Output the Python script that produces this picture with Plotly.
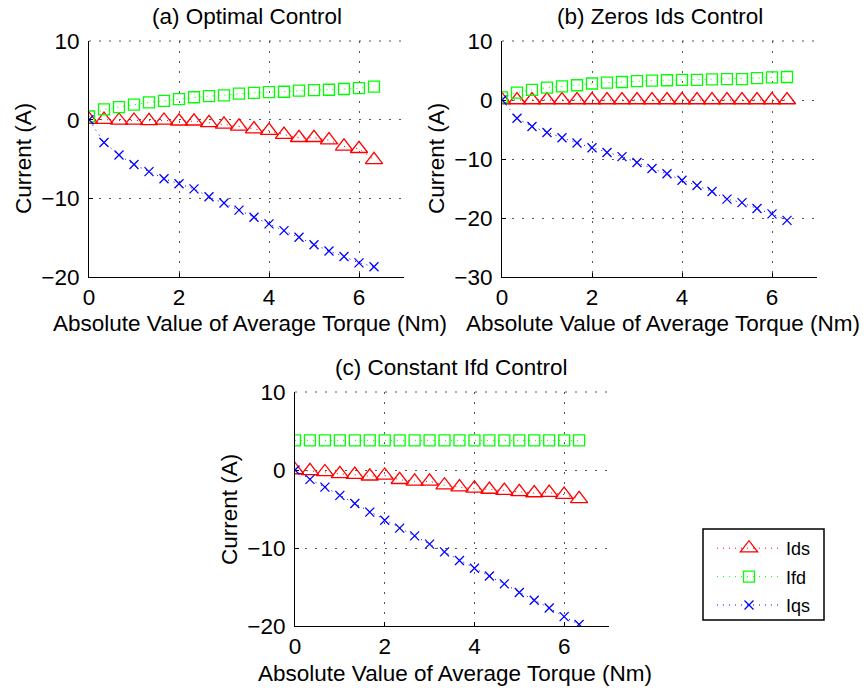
import plotly.graph_objects as go

W, H = 867, 690

# x values: 20 torque points, 0 .. 6.33 Nm
torque = [k / 3 for k in range(20)]

# (a) Optimal Control
a_ids = [0, 0, -0.1, -0.1, -0.15, -0.1, -0.2, -0.2, -0.4, -0.6,
         -0.85, -1.2, -1.4, -1.9, -2.3, -2.3, -2.6, -3.4, -3.7, -5.1]
a_ifd = [0.4, 1.3, 1.6, 1.9, 2.2, 2.4, 2.6, 2.85, 3.0, 3.1,
         3.3, 3.4, 3.5, 3.55, 3.7, 3.75, 3.8, 3.9, 4.0, 4.2]
a_iqs = [0, -2.9, -4.5, -5.7, -6.6, -7.5, -8.15, -8.8, -9.8, -10.6,
         -11.5, -12.4, -13.25, -14.1, -14.95, -15.9, -16.7, -17.4, -18.2, -18.7]

# (b) Zeros Ids Control
b_ids = [0] * 20
b_ifd = [0.45, 1.25, 1.7, 2.1, 2.3, 2.5, 2.8, 2.95, 3.05, 3.2,
         3.3, 3.35, 3.4, 3.4, 3.5, 3.55, 3.55, 3.7, 3.85, 3.9]
b_iqs = [0, -3.1, -4.5, -5.5, -6.4, -7.3, -8.1, -8.9, -9.6, -10.6,
         -11.6, -12.5, -13.6, -14.5, -15.5, -16.8, -17.4, -18.4, -19.3, -20.4]

# (c) Constant Ifd Control
c_ids = [0, -0.1, -0.25, -0.5, -0.6, -0.8, -0.7, -1.25, -1.45, -1.45,
         -1.95, -2.2, -2.35, -2.5, -2.65, -2.8, -2.95, -2.9, -3.15, -3.7]
c_ifd = [3.8] * 20
c_iqs = [0, -1.2, -2.2, -3.25, -4.3, -5.4, -6.45, -7.45, -8.45, -9.5,
         -10.5, -11.6, -12.6, -13.6, -14.6, -15.7, -16.7, -17.7, -18.8, -19.8]

titles = ["(a) Optimal Control", "(b) Zeros Ids Control", "(c) Constant Ifd Control"]
series_names = ["Ids", "Ifd", "Iqs"]
x_ticks = [0, 2, 4, 6]
x_range = [0, 7]
y_ranges = [[-20, 10], [-30, 10], [-20, 10]]
y_ticks = [[-20, -10, 0, 10], [-30, -20, -10, 0, 10], [-20, -10, 0, 10]]

FONT = "Liberation Sans, Arial, Helvetica, sans-serif"
FS = 22.5
colors = {"Ids": "#ff0000", "Ifd": "#00ff00", "Iqs": "#0000ff"}
symbols = {"Ids": "triangle-up-open", "Ifd": "square-open", "Iqs": "x-thin-open"}
msizes = {"Ids": 15, "Ifd": 11, "Iqs": 9}
GRID = "#555555"

# axes boxes in pixels: (left, right, top, bottom)
boxes = [(89, 404, 41, 277), (502, 817, 41, 277), (295, 609, 392, 626)]

data = [(a_ids, a_ifd, a_iqs), (b_ids, b_ifd, b_iqs), (c_ids, c_ifd, c_iqs)]

fig = go.Figure()
for i, vals in enumerate(data):
    sfx = "" if i == 0 else str(i + 1)
    for name, y in zip(series_names, vals):
        fig.add_trace(go.Scatter(
            x=torque, y=y, mode="lines+markers", name=name,
            legendgroup=name,
            xaxis="x" + sfx, yaxis="y" + sfx,
            showlegend=(i == 2),
            line=dict(color=colors[name], width=1, dash="1px,5px"),
            marker=dict(symbol=symbols[name], size=msizes[name],
                        color=colors[name],
                        line=dict(color=colors[name], width=1.3)),
        ))

layout = dict(
    template="none",
    width=W, height=H,
    margin=dict(l=0, r=0, t=0, b=0),
    paper_bgcolor="white", plot_bgcolor="white",
    font=dict(family=FONT, size=FS, color="black"),
    showlegend=True,
    legend=dict(
        x=712 / W, y=1 - 530 / H, xanchor="left", yanchor="top",
        borderwidth=0, bgcolor="rgba(0,0,0,0)",
        font=dict(size=18, family=FONT), itemwidth=64,
        tracegroupgap=2, orientation="v",
    ),
)
annotations = []
shapes = []
for i, (l, r, t, b) in enumerate(boxes):
    sfx = "" if i == 0 else str(i + 1)
    layout["xaxis" + sfx] = dict(
        domain=[l / W, r / W], anchor="y" + sfx, range=x_range,
        tickvals=x_ticks, showgrid=True, gridcolor=GRID, griddash="2px,8px",
        gridwidth=1, zeroline=False, showline=True, linecolor="black",
        linewidth=1, ticks="inside", ticklen=4, tickcolor="black",
        mirror=False, tickfont=dict(size=FS), automargin=False,
    )
    layout["yaxis" + sfx] = dict(
        domain=[1 - b / H, 1 - t / H], anchor="x" + sfx, range=y_ranges[i],
        tickvals=y_ticks[i], showgrid=True, gridcolor=GRID, griddash="2px,8px",
        gridwidth=1, zeroline=False, showline=True, linecolor="black",
        linewidth=1, ticks="inside", ticklen=4, tickcolor="black",
        mirror=False, tickfont=dict(size=FS), automargin=False,
        ticklabelstandoff=4,
    )
    # top grid line at the upper axis limit (plotly hides edge grid lines)
    shapes.append(dict(type="line", xref="x" + sfx + " domain", yref="y" + sfx + " domain",
                       x0=0, x1=1, y0=1, y1=1,
                       line=dict(color=GRID, width=1, dash="2px,8px")))
    cx = (l + r) / 2
    annotations.append(dict(text=titles[i], x=cx / W, y=1 - (t - 25) / H,
                            xref="paper", yref="paper", showarrow=False,
                            xanchor="center", yanchor="middle",
                            font=dict(size=FS)))
    annotations.append(dict(text="Absolute Value of Average Torque (Nm)",
                            x=(cx + 3) / W, y=1 - (b + 47) / H,
                            xref="paper", yref="paper", showarrow=False,
                            xanchor="center", yanchor="middle",
                            font=dict(size=FS)))
    annotations.append(dict(text="Current (A)", x=(l - 66) / W,
                            y=1 - ((t + b) / 2) / H,
                            xref="paper", yref="paper", showarrow=False,
                            xanchor="center", yanchor="middle", textangle=-90,
                            font=dict(size=FS)))
# legend frame
shapes.append(dict(type="rect", xref="paper", yref="paper",
                   x0=703 / W, x1=824 / W, y0=1 - 620 / H, y1=1 - 529 / H,
                   line=dict(color="black", width=1.5), fillcolor="white",
                   layer="below"))
layout["annotations"] = annotations
layout["shapes"] = shapes
fig.update_layout(**layout)
fig.write_html("out.html",
               post_script="document.body.style.margin='0px';document.body.style.overflow='hidden';")
